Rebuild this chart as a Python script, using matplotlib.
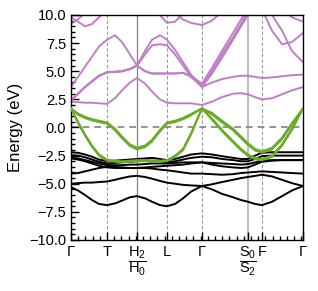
import numpy as np
import matplotlib
matplotlib.use("Agg")
import matplotlib.pyplot as plt
from matplotlib.ticker import MultipleLocator

plt.rcParams['font.family'] = ['Liberation Sans', 'DejaVu Sans']
plt.rcParams['mathtext.fontset'] = 'custom'
plt.rcParams['mathtext.rm'] = 'Liberation Sans'
plt.rcParams['mathtext.it'] = 'Liberation Sans:italic'

# k-path (arbitrary units along the path)
kpts = [0, 0.097, 0.194, 0.292, 0.389, 0.5, 0.611, 0.708, 0.819, 0.917,
        1.028, 1.125, 1.236, 1.333, 1.444, 1.556, 1.667, 1.819, 1.958, 2.097,
        2.25, 2.361, 2.458, 2.556, 2.653, 2.792, 2.931, 3.069, 3.222]
hs_pos = [0, 0.5, 0.917, 1.333, 1.819, 2.458, 2.653, 3.222]
hs_labels = [r'$\Gamma$', 'T', r'$\dfrac{\mathrm{H}_2}{\mathrm{H}_0}$', 'L', r'$\Gamma$',
             r'$\dfrac{\mathrm{S}_0}{\mathrm{S}_2}$', 'F', r'$\Gamma$']
solid_vlines = [0.917, 2.458]
dashed_vlines = [0.5, 1.333, 1.819, 2.653]

# conduction bands (eV)
cb1 = [2.3, 2.25, 2.2, 2.2, 2.15, 2.1, 2.6, 3.3, 4.0, 4.4, 3.9, 3.2, 2.5, 2.2, 2.15,
       2.15, 2.15, 2.0, 2.3, 2.7, 3.0, 3.05, 2.95, 2.7, 2.5, 2.6, 2.95, 3.3, 3.6]
cb2 = [2.4, 3.0, 3.6, 4.1, 4.6, 4.9, 4.95, 5.0, 5.2, 5.5, 5.0, 4.8, 4.8, 4.8, 4.8,
       4.85, 4.5, 3.6, 4.0, 4.3, 4.5, 4.6, 4.6, 4.5, 4.4, 4.45, 4.55, 4.65, 4.7]
cb3 = [3.6, 4.5, 5.4, 6.3, 7.2, 7.8, 8.2, 7.6, 6.5, 5.5, 6.8, 7.8, 8.2, 7.8, 6.9,
       5.8, 4.7, 3.6, 4.8, 6.2, 7.8, 9.0, 10.0, 11.0, 11.0, 11.0, 11.0, 11.0, 11.0]
cb4 = [2.4, 3.0, 3.6, 4.1, 4.6, 4.9, 4.95, 5.0, 5.2, 5.5, 6.5, 7.3, 7.4, 7.3, 6.5,
       5.5, 4.5, 3.8, 5.0, 6.5, 8.0, 9.2, 10.3, 11.0, 11.0, 11.0, 11.0, 11.0, 11.0]
cb5 = [9.8, 9.4, 9.0, 9.2, 9.8, 10.5, 11.0, 11.0, 11.0, 11.0, 11.0, 11.0, 11.0, 11.0, 10.2,
       9.6, 9.3, 9.1, 9.5, 10.3, 11.0, 11.0, 11.0, 11.0, 10.5, 8.6, 7.4, 7.6, 8.4]
cb6 = [9.2, 9.6, 10.2, 10.5, 11.0, 11.0, 11.0, 11.0, 11.0, 11.0, 11.0, 10.6, 10.0, 9.3, 9.4,
       10.1, 10.6, 11.0, 11.0, 11.0, 11.0, 11.0, 11.0, 11.0, 11.0, 10.0, 8.6, 6.8, 5.8]
cb7 = [2.4, 3.0, 3.6, 4.1, 4.6, 4.9, 4.95, 5.0, 5.2, 5.5, 5.0, 4.8, 4.8, 4.8, 4.8,
       4.85, 4.6, 3.9, 5.3, 6.8, 8.4, 9.6, 10.6, 11.0, 11.0, 11.0, 11.0, 11.0, 11.0]
cb8 = [11.0, 11.0, 11.0, 11.0, 11.0, 11.0, 11.0, 11.0, 11.0, 11.0, 11.0, 11.0, 11.0, 11.0, 11.0,
       11.0, 11.0, 11.0, 11.0, 11.0, 11.0, 11.0, 11.0, 11.0, 11.0, 11.0, 10.5, 9.8, 9.4]

# top valence bands (eV)
vb1 = [1.7, 1.25, 0.95, 0.75, 0.6, 0.45, -0.1, -0.8, -1.5, -1.8, -1.6, -1.1, -0.2, 0.45, 0.6,
       0.85, 1.2, 1.7, 1.3, 0.6, -0.1, -0.8, -1.4, -1.9, -2.1, -1.8, -0.9, 0.4, 1.7]
vb2 = [1.7, 1.13, 0.83, 0.63, 0.48, 0.33, -0.25, -0.95, -1.65, -1.95, -1.75, -1.25, -0.35, 0.33, 0.48,
       0.73, 1.08, 1.7, 1.15, 0.45, -0.25, -0.95, -1.55, -2.05, -2.25, -1.95, -1.05, 0.25, 1.7]
vb3 = [1.7, 0.5, -0.6, -1.6, -2.4, -2.85, -2.95, -3.0, -2.95, -2.9, -2.9, -2.95, -2.95, -2.9, -2.5,
       -1.9, -0.5, 1.7, 0.8, -0.2, -1.2, -1.9, -2.4, -2.7, -2.8, -2.5, -1.5, -0.1, 1.7]
vb4 = [1.7, 0.38, -0.72, -1.72, -2.52, -2.95, -3.05, -3.08, -3.05, -3.0, -3.0, -3.05, -3.05, -3.0, -2.62,
       -2.02, -0.62, 1.7, 0.68, -0.32, -1.32, -2.02, -2.52, -2.82, -2.92, -2.62, -1.62, -0.22, 1.7]

# lower valence bands (eV)
lb1 = [-2.2, -2.25, -2.4, -2.6, -2.85, -3.0, -2.95, -2.9, -2.85, -2.8, -2.75, -2.7, -2.8, -2.9, -2.8,
       -2.6, -2.4, -2.3, -2.4, -2.55, -2.7, -2.8, -2.8, -2.5, -2.25, -2.2, -2.2, -2.2, -2.2]
lb2 = [-2.45, -2.5, -2.65, -2.85, -3.05, -3.2, -3.15, -3.1, -3.05, -3.0, -2.95, -2.95, -3.0, -3.1, -3.0,
       -2.85, -2.7, -2.6, -2.65, -2.8, -2.9, -3.0, -3.0, -2.8, -2.55, -2.5, -2.5, -2.5, -2.5]
lb3 = [-2.7, -2.75, -2.9, -3.05, -3.2, -3.35, -3.35, -3.35, -3.3, -3.3, -3.25, -3.2, -3.2, -3.2, -3.15,
       -3.1, -3.1, -3.1, -3.15, -3.2, -3.25, -3.3, -3.25, -3.1, -2.95, -2.9, -2.9, -2.9, -2.9]
lb4 = [-2.75, -2.85, -3.0, -3.2, -3.4, -3.55, -3.6, -3.6, -3.6, -3.6, -3.55, -3.5, -3.45, -3.4, -3.35,
       -3.3, -3.2, -3.1, -3.3, -3.45, -3.55, -3.6, -3.55, -3.3, -3.05, -2.95, -2.9, -2.9, -2.9]
lb5 = [-4.1, -4.05, -3.9, -3.75, -3.6, -3.5, -3.5, -3.55, -3.6, -3.6, -3.6, -3.65, -3.75, -3.8, -3.9,
       -4.0, -4.1, -4.1, -4.15, -4.2, -4.15, -4.05, -4.0, -3.95, -3.9, -3.95, -4.0, -4.05, -4.1]
lb6 = [-5.0, -4.95, -4.9, -4.9, -4.85, -4.8, -4.65, -4.5, -4.35, -4.3, -4.4, -4.55, -4.75, -4.9, -5.0,
       -5.1, -5.15, -5.2, -5.05, -4.85, -4.65, -4.5, -4.4, -4.3, -4.2, -4.35, -4.65, -4.95, -5.2]
lb7 = [-5.3, -5.6, -6.0, -6.45, -6.8, -6.9, -6.75, -6.5, -6.2, -6.1, -6.3, -6.6, -6.9, -7.0, -6.8,
       -6.3, -5.7, -5.2, -5.5, -5.9, -6.2, -6.45, -6.6, -6.8, -6.9, -6.6, -6.1, -5.6, -5.2]

cond_bands = [cb1, cb2, cb3, cb4, cb5, cb6, cb7, cb8]
top_bands = [vb1, vb2, vb3, vb4]
low_bands = [lb1, lb2, lb3, lb4, lb5, lb6, lb7]

fig, ax = plt.subplots(figsize=(3.18, 2.91), dpi=100)
fig.subplots_adjust(left=0.2233, right=0.9528, bottom=0.1753, top=0.9485)

for x in dashed_vlines:
    ax.axvline(x, color='0.6', lw=0.8, ls=(0, (3, 2)), zorder=1)
ax.axvline(solid_vlines[0], color='0.5', lw=0.9, zorder=1)
ax.axvline(solid_vlines[1], color='0.75', lw=1.5, zorder=1)
ax.axhline(0, color='0.5', lw=1.2, ls=(0, (4, 3)), zorder=1)

for b in low_bands:
    ax.plot(kpts, b, color='black', lw=1.4, zorder=2)
for b in top_bands:
    ax.plot(kpts, b, color='#6aab28', lw=1.4, zorder=3)
for b in cond_bands:
    ax.plot(kpts, b, color='#c07ec6', lw=1.4, zorder=2)

ax.set_xlim(0, 3.222)
ax.set_ylim(-10, 10)
ax.set_xticks(hs_pos)
ax.set_xticklabels(hs_labels, fontsize=10.5)
ax.xaxis.set_minor_locator(MultipleLocator(0.1))
ax.yaxis.set_major_locator(MultipleLocator(2.5))
ax.yaxis.set_minor_locator(MultipleLocator(0.5))
ax.tick_params(which='both', direction='in', top=False, right=False, labelsize=10.5, width=1.0)
ax.tick_params(which='major', length=6)
ax.tick_params(which='minor', length=3)
ax.set_ylabel('Energy (eV)', fontsize=12)
for s in ax.spines.values():
    s.set_linewidth(1.0)

fig.savefig('out.png', dpi=100)
